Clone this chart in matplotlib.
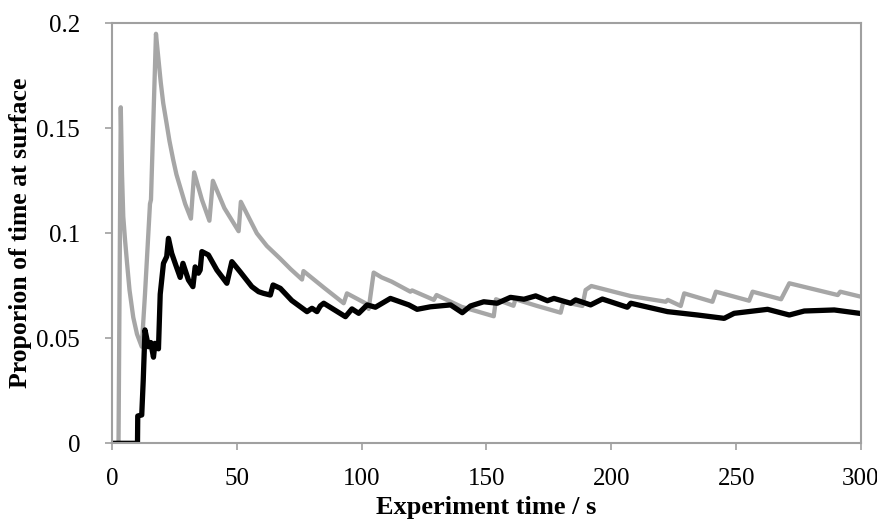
import numpy as np
from matplotlib import pyplot as plt

plt.rcParams['font.family'] = ['Liberation Serif', 'DejaVu Serif']

# grey series (time s, proportion)
grey_t = [0, 2.6, 3.5, 4.0, 4.5, 5.2, 6.0, 7.0, 8.5, 10, 11.9, 13.2, 15.2, 15.6, 17.6,
          18.5, 19.5, 20.5, 21.9, 23, 24.5, 25.8, 27.3, 29.3, 31.6, 32.9, 36, 39.0,
          40.4, 45, 50.7, 51.6, 55, 58, 62, 67.3, 71.5, 76.1, 76.7, 85, 92.8, 94.1,
          101.5, 102.8, 104.8, 108, 112, 119.5, 120.2, 128.9, 130, 140, 152.9, 153.8,
          160.8, 161.6, 170, 179.7, 180.8, 188.4, 189.7, 192, 207.8, 221.8, 222.6,
          227.8, 229.2, 240.5, 241.9, 255.2, 256.6, 268, 271.3, 290.7, 291.7, 300]
grey_v = [0, 0, 0.160, 0.128, 0.108, 0.097, 0.086, 0.073, 0.060, 0.052, 0.046, 0.071,
          0.114, 0.116, 0.195, 0.184, 0.172, 0.162, 0.152, 0.144, 0.135, 0.128, 0.122,
          0.114, 0.107, 0.129, 0.116, 0.106, 0.125, 0.112, 0.101, 0.115, 0.107, 0.100,
          0.094, 0.088, 0.083, 0.078, 0.082, 0.074, 0.0667, 0.0714, 0.0667, 0.064,
          0.0813, 0.079, 0.077, 0.0722, 0.0728, 0.0683, 0.0706, 0.065, 0.0605, 0.0686,
          0.0655, 0.0686, 0.0655, 0.0622, 0.0674, 0.0654, 0.073, 0.0749, 0.0701,
          0.0674, 0.0683, 0.0654, 0.0714, 0.0674, 0.0722, 0.0679, 0.0722, 0.0686,
          0.0762, 0.0706, 0.0722, 0.0698]

# black series
black_t = [0, 10.2, 10.3, 11.9, 12.5, 13.2, 14.6, 15.5, 16.6, 17.2, 18.6, 19.3, 20.6,
           21.9, 22.6, 23.9, 25.5, 27.3, 28.4, 30.6, 32.4, 33.3, 34.6, 35.3, 36.0,
           38.6, 42, 46, 48, 51.3, 56, 58.7, 60.7, 63.4, 64.5, 67.4, 72, 78.1, 80.1,
           82.1, 83.4, 84.8, 93.5, 96.1, 98.8, 102.2, 105.5, 111.5, 118.9, 122.2,
           127.5, 135.6, 140.3, 143.6, 148.9, 154.3, 159.6, 165, 169.7, 174.4, 177,
           183.7, 185.7, 191.7, 196.4, 206.4, 207.8, 222.5, 234.5, 245.2, 249.2,
           262.6, 271.3, 277.3, 289.3, 300]
black_v = [0, 0, 0.013, 0.0135, 0.03, 0.054, 0.046, 0.048, 0.041, 0.0476, 0.045, 0.071,
           0.0857, 0.0889, 0.0976, 0.0905, 0.085, 0.079, 0.0857, 0.0778, 0.0746, 0.084,
           0.081, 0.0825, 0.0913, 0.0897, 0.0825, 0.0762, 0.0865, 0.0817, 0.0746,
           0.0722, 0.0714, 0.0706, 0.0754, 0.0738, 0.068, 0.0627, 0.0643, 0.0627,
           0.0654, 0.0667, 0.0603, 0.0640, 0.0619, 0.0659, 0.0648, 0.069, 0.0659,
           0.0638, 0.065, 0.0659, 0.0622, 0.0654, 0.0674, 0.0667, 0.0695, 0.0686,
           0.0702, 0.0679, 0.069, 0.0667, 0.0683, 0.0659, 0.0687, 0.0648, 0.0667,
           0.0627, 0.0611, 0.0595, 0.0619, 0.0638, 0.0611, 0.063, 0.0635, 0.0618]

fig = plt.figure(figsize=(8.78, 5.27), dpi=100)
ax = fig.add_axes([0.1276, 0.1588, 0.853, 0.797])

ax.plot(grey_t, grey_v, color='#a6a6a6', lw=3.1, solid_joinstyle='round')
ax.plot(black_t, black_v, color='black', lw=3.8, solid_joinstyle='round')

ax.set_xlim(0, 300)
ax.set_ylim(0, 0.2)
ax.set_xticks([0, 50, 100, 150, 200, 250, 300])
ax.set_yticks([0, 0.05, 0.1, 0.15, 0.2])
ax.set_yticklabels(['0', '0.05', '0.1', '0.15', '0.2'])

for s in ax.spines.values():
    s.set_color('#a0a0a0')
    s.set_linewidth(1.5)
ax.tick_params(axis='both', direction='out', length=5, width=1.2, color='#a0a0a0',
               labelsize=18)
ax.tick_params(axis='y', pad=18)
ax.tick_params(axis='x', pad=13)

ax.set_xlabel('Experiment time / s', fontsize=19, fontweight='bold', labelpad=4)
ax.set_ylabel('Proporion of time at surface', fontsize=18.5, fontweight='bold', labelpad=3)

plt.savefig('out.png', dpi=100)
